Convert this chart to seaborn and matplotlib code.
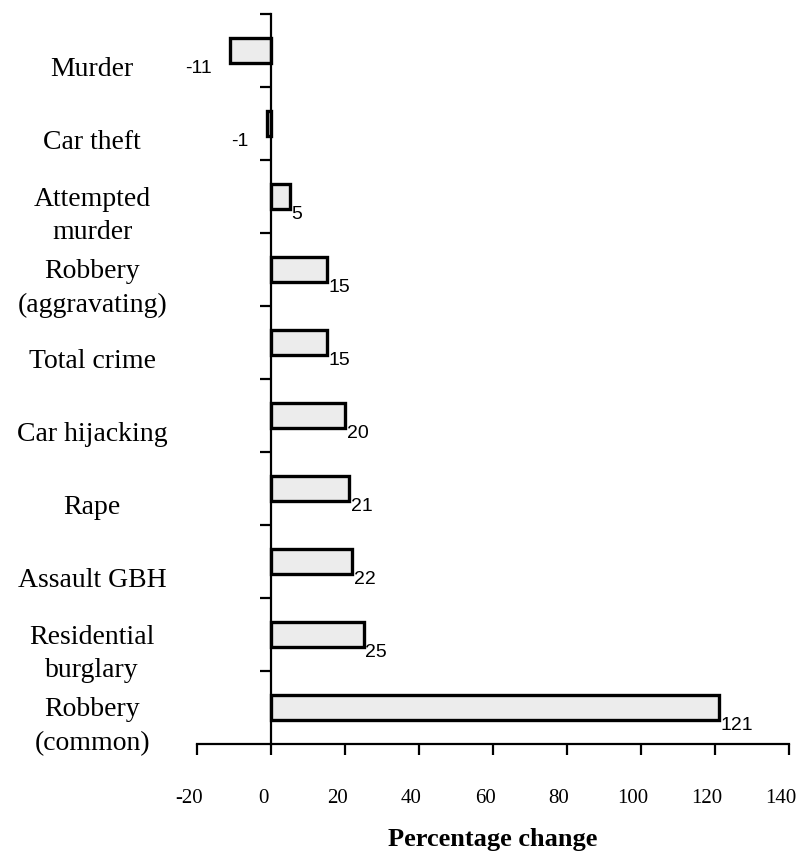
import seaborn as sns
import pandas as pd
import numpy as np
import matplotlib.pyplot as plt
import matplotlib.transforms as mtransforms

categories = ['Murder', 'Car theft', 'Attempted\nmurder', 'Robbery\n(aggravating)',
              'Total crime', 'Car hijacking', 'Rape', 'Assault GBH',
              'Residential\nburglary', 'Robbery\n(common)']
pct_change = [-11, -1, 5, 15, 15, 20, 21, 22, 25, 121]
x_ticks = [-20, 0, 20, 40, 60, 80, 100, 120, 140]

df = pd.DataFrame({'category': categories, 'change': pct_change})

fig = plt.figure(figsize=(7.98, 8.54), dpi=100)
ax = fig.add_axes([0.2469, 0.1276, 0.742, 0.8548])

sns.barplot(data=df, x='change', y='category', orient='h', ax=ax,
            color='#ececec', edgecolor='black', linewidth=2.4, width=0.33,
            saturation=1)

ax.set_xlim(-20, 140)
ax.set_ylim(9.5, -0.5)
ax.set_xticks(x_ticks)
ax.set_xticklabels([str(t) for t in x_ticks], family='Liberation Serif', fontsize=15)
ax.tick_params(axis='x', length=8, width=1.6, pad=24)
# labels in the original sit a little left of their ticks
shift = mtransforms.ScaledTranslation(-0.08, 0, fig.dpi_scale_trans)
for lbl in ax.get_xticklabels():
    lbl.set_transform(lbl.get_transform() + shift)

ax.spines['top'].set_visible(False)
ax.spines['right'].set_visible(False)
ax.spines['left'].set_position(('data', 0))
ax.spines['left'].set_linewidth(1.6)
ax.spines['bottom'].set_linewidth(1.6)

# category labels drawn as text, ticks sit on the boundaries
ax.set_yticks(range(len(categories)))
ax.set_yticklabels([])
ax.tick_params(axis='y', which='major', length=0)
ax.set_yticks(np.arange(-0.5, len(categories) - 0.5, 1), minor=True)
ax.tick_params(axis='y', which='minor', length=8, width=1.6, direction='out')
ax.set_ylabel('')

for i, lab in enumerate(categories):
    ax.text(-0.177, i + 0.25, lab, transform=ax.get_yaxis_transform(),
            ha='center', va='center', multialignment='center', linespacing=1.45,
            family='Liberation Serif', fontsize=20)

for i, v in enumerate(pct_change):
    if v < 0:
        ax.text(v - 5, i + 0.12, str(v), ha='right', va='top',
                family='Liberation Sans', fontsize=14)
    else:
        ax.text(v + 0.5, i + 0.12, str(v), ha='left', va='top',
                family='Liberation Sans', fontsize=14)

ax.set_xlabel('Percentage change', family='Liberation Serif', fontsize=19,
              fontweight='bold', labelpad=14)

fig.savefig('out.png', dpi=100)
